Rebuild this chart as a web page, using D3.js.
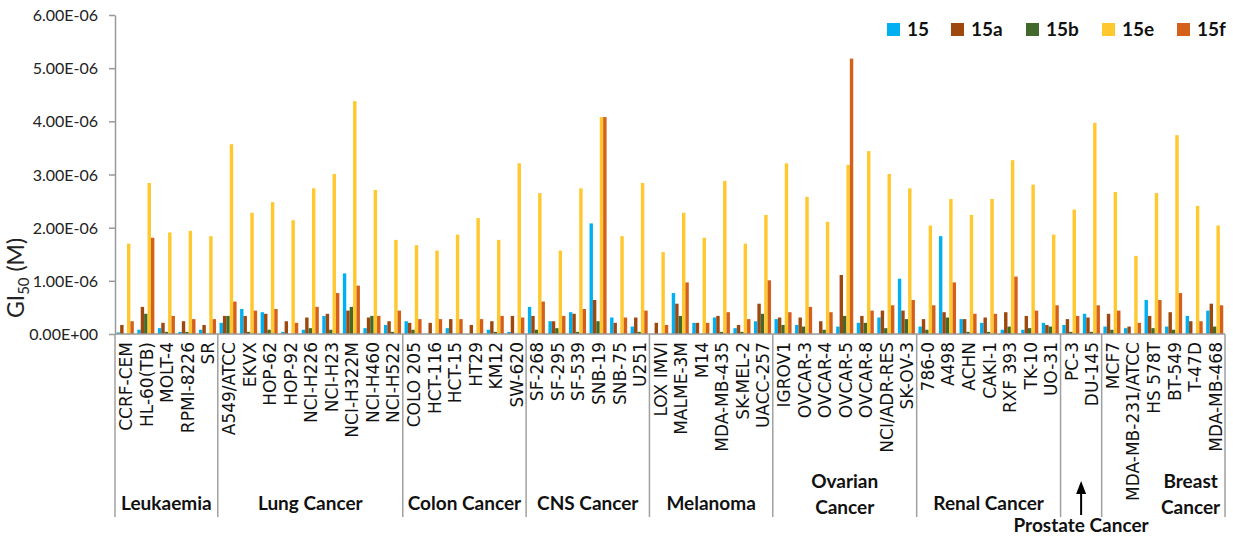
<!DOCTYPE html>
<html>
<head>
  <meta charset="utf-8" />
  <script src="https://d3js.org/d3.v7.min.js"></script>
  <style>
    body { margin: 0; padding: 0; background-color: #ffffff; }
  </style>
</head>
<body>
  <svg id="chart" width="1233" height="537"></svg>
  <script>
    // cell lines, in plotting order
    const cellLines = [
      "CCRF-CEM", "HL-60(TB)", "MOLT-4", "RPMI-8226", "SR",
      "A549/ATCC", "EKVX", "HOP-62", "HOP-92", "NCI-H226", "NCI-H23", "NCI-H322M", "NCI-H460", "NCI-H522",
      "COLO 205", "HCT-116", "HCT-15", "HT29", "KM12", "SW-620",
      "SF-268", "SF-295", "SF-539", "SNB-19", "SNB-75", "U251",
      "LOX IMVI", "MALME-3M", "M14", "MDA-MB-435", "SK-MEL-2", "UACC-257",
      "IGROV1", "OVCAR-3", "OVCAR-4", "OVCAR-5", "OVCAR-8", "NCI/ADR-RES", "SK-OV-3",
      "786-0", "A498", "ACHN", "CAKI-1", "RXF 393", "TK-10", "UO-31",
      "PC-3", "DU-145",
      "MCF7", "MDA-MB-231/ATCC", "HS 578T", "BT-549", "T-47D", "MDA-MB-468"
    ];
    const groupNames = ["Leukaemia", "Lung Cancer", "Colon Cancer", "CNS Cancer", "Melanoma",
      "Ovarian Cancer", "Renal Cancer", "Prostate Cancer", "Breast Cancer"];
    const groupSizes = [5, 9, 6, 6, 6, 7, 7, 2, 6];

    const seriesNames = ["15", "15a", "15b", "15e", "15f"];
    const seriesColors = ["#00b0f0", "#9e480e", "#43682b", "#ffc82e", "#d4601a"];

    // GI50 values, in units of 1e-6 M
    const v15 = [0.03, 0.08, 0.11, 0.04, 0.08,
      0.21, 0.47, 0.41, 0.04, 0.08, 0.34, 1.14, 0.11, 0.17,
      0.24, 0, 0.11, 0, 0.08, 0.04,
      0.51, 0.24, 0.41, 2.08, 0.31, 0.14,
      0, 0.77, 0.21, 0.31, 0.11, 0.24,
      0.28, 0.17, 0, 0.14, 0.21, 0.31, 1.04,
      0.14, 1.84, 0.28, 0.21, 0.08, 0.08, 0.21,
      0.17, 0.38,
      0.14, 0.11, 0.64, 0.14, 0.34, 0.44];
    const v15a = [0.17, 0.51, 0.21, 0.24, 0.17,
      0.34, 0.34, 0.38, 0.24, 0.31, 0.38, 0.44, 0.31, 0.24,
      0.21, 0.21, 0.28, 0.17, 0.24, 0.34,
      0.34, 0.24, 0.38, 0.64, 0.21, 0.31,
      0.21, 0.57, 0.21, 0.34, 0.17, 0.57,
      0.31, 0.31, 0.24, 1.11, 0.34, 0.44, 0.44,
      0.28, 0.41, 0.28, 0.31, 0.41, 0.34, 0.17,
      0.28, 0.31,
      0.38, 0.14, 0.34, 0.41, 0.24, 0.57];
    const v15b = [0, 0.38, 0.04, 0.04, 0,
      0.34, 0.04, 0.08, 0, 0.11, 0.08, 0.51, 0.34, 0.04,
      0.08, 0, 0, 0, 0.04, 0,
      0.08, 0.11, 0.04, 0.24, 0, 0.04,
      0, 0.34, 0, 0.04, 0.04, 0.38,
      0.17, 0.14, 0.08, 0.34, 0.21, 0.11, 0.28,
      0.08, 0.31, 0.04, 0.04, 0.14, 0.11, 0.14,
      0.04, 0.04,
      0.08, 0, 0.11, 0.08, 0, 0.14];
    const v15e = [1.70, 2.84, 1.91, 1.94, 1.84,
      3.57, 2.28, 2.48, 2.14, 2.74, 3.01, 4.38, 2.71, 1.77,
      1.67, 1.57, 1.87, 2.18, 1.77, 3.21,
      2.65, 1.57, 2.74, 4.08, 1.84, 2.84,
      1.54, 2.28, 1.81, 2.88, 1.70, 2.24,
      3.21, 2.58, 2.11, 3.18, 3.44, 3.01, 2.74,
      2.04, 2.54, 2.24, 2.54, 3.27, 2.81, 1.87,
      2.34, 3.97,
      2.67, 1.47, 2.65, 3.74, 2.41, 2.04];
    const v15f = [0.24, 1.81, 0.34, 0.28, 0.28,
      0.61, 0.44, 0.47, 0.21, 0.51, 0.77, 0.91, 0.34, 0.44,
      0.28, 0.28, 0.28, 0.28, 0.34, 0.31,
      0.61, 0.34, 0.47, 4.08, 0.31, 0.44,
      0.17, 0.97, 0.21, 0.41, 0.28, 1.01,
      0.41, 0.51, 0.41, 5.18, 0.44, 0.54, 0.64,
      0.54, 0.97, 0.38, 0.38, 1.08, 0.44, 0.54,
      0.34, 0.54,
      0.44, 0.21, 0.64, 0.77, 0.24, 0.54];
    const yTicks = [0, 1e-6, 2e-6, 3e-6, 4e-6, 5e-6, 6e-6];

    const allSeries = [v15, v15a, v15b, v15e, v15f];

    const svg = d3.select("#chart");
    const plotLeft = 115, plotRight = 1225, plotTop = 15, base = 334;
    const sansFont = "Lato, 'Open Sans', sans-serif";
    const catFont = "'DejaVu Sans', Verdana, sans-serif";

    const x = d3.scaleBand().domain(cellLines).range([plotLeft, plotRight]).paddingInner(0.17).paddingOuter(0.085);
    const xs = d3.scaleBand().domain(seriesNames).range([0, x.bandwidth()]);
    const y = d3.scaleLinear().domain([0, 6e-6]).range([base, plotTop]);

    // Excel-like scientific format: 1.00E-06
    function sci(v) {
      const parts = v.toExponential(2).split("e");
      let e = +parts[1];
      const sign = e < 0 ? "-" : "+";
      e = Math.abs(e);
      return parts[0] + "E" + sign + (e < 10 ? "0" + e : e);
    }

    // bars
    const rows = [];
    cellLines.forEach((c, i) => {
      seriesNames.forEach((s, j) => {
        rows.push({ cell: c, series: s, color: seriesColors[j], value: allSeries[j][i] * 1e-6 });
      });
    });

    svg.append("g")
      .selectAll("rect")
      .data(rows)
      .enter()
      .append("rect")
      .attr("x", d => x(d.cell) + xs(d.series))
      .attr("y", d => y(d.value))
      .attr("width", xs.bandwidth())
      .attr("height", d => base - y(d.value))
      .attr("fill", d => d.color);

    // y axis
    const yAxis = svg.append("g")
      .attr("transform", `translate(${plotLeft},0)`)
      .call(d3.axisLeft(y).tickValues(yTicks).tickFormat(sci).tickSize(6).tickSizeOuter(0));
    yAxis.select(".domain").attr("stroke", "#999").attr("stroke-width", 1.5);
    yAxis.selectAll(".tick line").attr("stroke", "#999").attr("stroke-width", 1.5);
    yAxis.selectAll(".tick text")
      .attr("x", -17)
      .attr("dy", "0.35em")
      .attr("fill", "#222")
      .style("font-family", sansFont)
      .style("font-size", "16px");

    // baseline
    svg.append("line")
      .attr("x1", plotLeft).attr("x2", plotRight)
      .attr("y1", base).attr("y2", base)
      .attr("stroke", "#999").attr("stroke-width", 1.5);

    // y axis title
    const yt = svg.append("text")
      .attr("transform", "translate(24,278) rotate(-90)")
      .attr("text-anchor", "middle")
      .attr("fill", "#222")
      .style("font-family", sansFont)
      .style("font-size", "23px");
    yt.append("tspan").text("GI");
    yt.append("tspan").style("font-size", "15px").attr("dy", 5).text("50");
    yt.append("tspan").attr("dy", -5).text(" (M)");

    // cell line labels
    svg.append("g")
      .selectAll("text")
      .data(cellLines)
      .enter()
      .append("text")
      .attr("transform", d => `translate(${x(d) + x.bandwidth() / 2 + 1},342) rotate(-90)`)
      .attr("dy", "0.35em")
      .attr("text-anchor", "end")
      .attr("fill", "#111")
      .style("font-family", catFont)
      .style("font-size", "17px")
      .text(d => d);

    // group separators and names
    let start = 0;
    const bounds = [];
    groupSizes.forEach((n, gi) => {
      const x0 = gi === 0 ? plotLeft : x(cellLines[start]) - x.step() * x.paddingInner() / 2;
      const last = cellLines[start + n - 1];
      const x1 = gi === groupSizes.length - 1 ? plotRight : x(last) + x.bandwidth() + x.step() * x.paddingInner() / 2;
      bounds.push([x0, x1]);
      start += n;
    });

    const sepX = [plotLeft].concat(bounds.map(b => b[1]));
    svg.append("g")
      .selectAll("line")
      .data(sepX)
      .enter()
      .append("line")
      .attr("x1", d => d).attr("x2", d => d)
      .attr("y1", base).attr("y2", 517)
      .attr("stroke", "#a0a0a0").attr("stroke-width", 1.5);

    const gLabels = svg.append("g")
      .attr("fill", "#111")
      .style("font-family", sansFont)
      .style("font-size", "19px")
      .style("font-weight", "bold");
    groupNames.forEach((name, gi) => {
      let cx = (bounds[gi][0] + bounds[gi][1]) / 2;
      if (name === "Ovarian Cancer" || name === "Breast Cancer") {
        // Breast label sits to the right of the long MDA-MB-231/ATCC label
        if (name === "Breast Cancer") cx = x("T-47D") + 5;
        const t = gLabels.append("text").attr("text-anchor", "middle");
        t.append("tspan").attr("x", cx).attr("y", 488).text(name.split(" ")[0]);
        t.append("tspan").attr("x", cx).attr("y", 514).text("Cancer");
      } else if (name === "Prostate Cancer") {
        gLabels.append("text").attr("text-anchor", "middle")
          .attr("x", cx).attr("y", 532).text(name);
        gLabels.append("line")
          .attr("x1", cx).attr("x2", cx).attr("y1", 515).attr("y2", 492)
          .attr("stroke", "#000").attr("stroke-width", 2);
        gLabels.append("path")
          .attr("d", `M${cx - 5},${494} L${cx},${481} L${cx + 5},${494} Z`)
          .attr("fill", "#000");
      } else {
        gLabels.append("text").attr("text-anchor", "middle")
          .attr("x", cx).attr("y", 510).text(name);
      }
    });

    // legend
    const legendX = [887, 951, 1026, 1102, 1177];
    const legend = svg.append("g");
    seriesNames.forEach((s, i) => {
      legend.append("rect")
        .attr("x", legendX[i]).attr("y", 23)
        .attr("width", 13).attr("height", 13)
        .attr("fill", seriesColors[i]);
      legend.append("text")
        .attr("x", legendX[i] + 20).attr("y", 36)
        .attr("fill", "#111")
        .style("font-family", sansFont)
        .style("font-size", "19px")
        .style("font-weight", "bold")
        .text(s);
    });
  </script>
</body>
</html>
